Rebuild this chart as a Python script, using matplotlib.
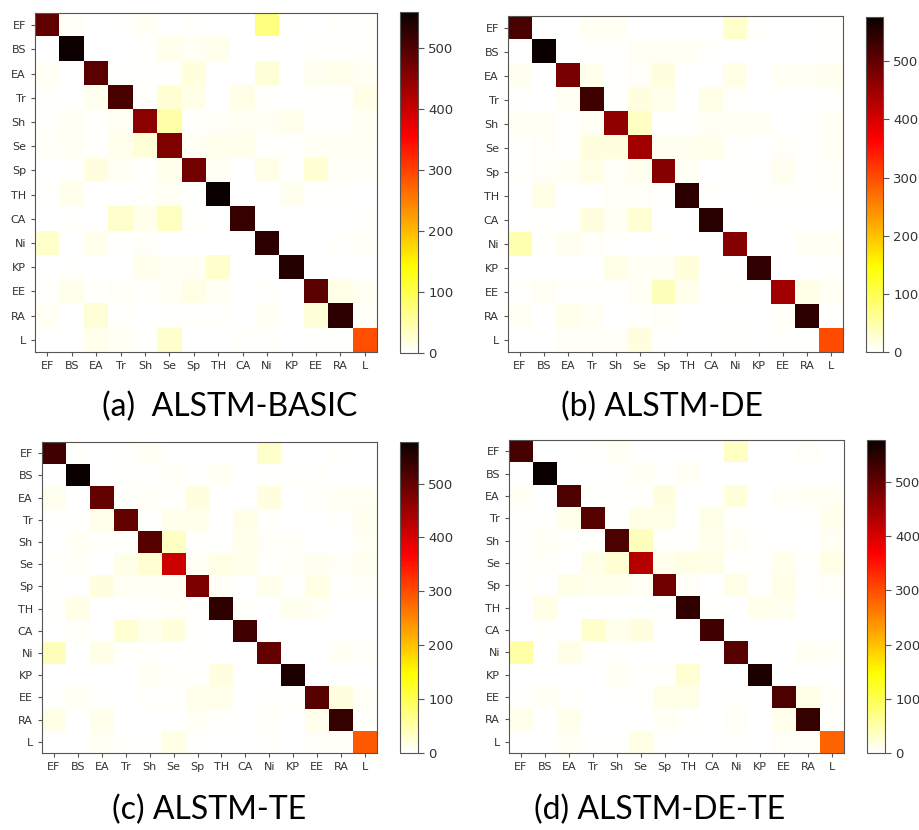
import matplotlib.pyplot as plt
import numpy as np

# class labels
labels = ['EF', 'BS', 'EA', 'Tr', 'Sh', 'Se', 'Sp', 'TH', 'CA', 'Ni', 'KP', 'EE', 'RA', 'L']

# confusion matrices (rows = true, cols = predicted)
cm_basic = np.array([
    [485, 5, 0, 3, 8, 0, 3, 0, 0, 70, 3, 0, 3, 3],
    [0, 555, 0, 0, 3, 12, 8, 12, 0, 0, 0, 3, 3, 3],
    [8, 0, 490, 3, 3, 3, 20, 0, 0, 22, 0, 10, 12, 8],
    [3, 0, 10, 505, 3, 25, 15, 0, 15, 3, 0, 3, 3, 15],
    [3, 8, 3, 8, 450, 50, 3, 5, 8, 8, 12, 3, 3, 8],
    [5, 8, 3, 12, 22, 460, 8, 12, 12, 3, 3, 8, 8, 8],
    [0, 3, 18, 8, 3, 12, 470, 8, 0, 15, 3, 25, 5, 5],
    [3, 12, 0, 0, 3, 8, 3, 559, 0, 0, 10, 3, 3, 0],
    [0, 3, 0, 30, 12, 35, 3, 0, 520, 0, 0, 0, 0, 3],
    [30, 0, 12, 3, 5, 0, 0, 0, 0, 530, 0, 0, 3, 5],
    [0, 3, 0, 0, 12, 8, 8, 30, 0, 0, 535, 0, 0, 0],
    [3, 12, 3, 5, 3, 8, 15, 8, 0, 3, 0, 490, 15, 8],
    [8, 0, 22, 3, 0, 3, 3, 3, 0, 8, 0, 22, 530, 5],
    [0, 0, 12, 8, 3, 30, 0, 0, 3, 3, 0, 3, 3, 290],
])

cm_de = np.array([
    [520, 0, 0, 8, 8, 0, 0, 0, 0, 30, 3, 0, 0, 3],
    [0, 576, 0, 3, 3, 8, 8, 8, 3, 0, 0, 0, 0, 3],
    [10, 0, 480, 12, 3, 5, 20, 0, 0, 15, 0, 8, 8, 10],
    [3, 0, 8, 530, 3, 20, 12, 0, 15, 3, 0, 0, 0, 3],
    [8, 8, 3, 8, 460, 35, 3, 3, 8, 8, 8, 0, 3, 8],
    [3, 5, 3, 18, 20, 445, 10, 10, 12, 3, 0, 5, 3, 8],
    [3, 5, 8, 15, 5, 10, 470, 8, 0, 3, 3, 10, 3, 5],
    [0, 15, 0, 0, 5, 5, 3, 545, 3, 0, 3, 3, 3, 3],
    [0, 3, 0, 20, 8, 25, 0, 0, 550, 0, 0, 0, 0, 0],
    [45, 3, 10, 5, 3, 0, 3, 0, 0, 470, 0, 0, 8, 8],
    [0, 0, 0, 0, 15, 8, 8, 22, 0, 0, 540, 0, 0, 3],
    [3, 8, 3, 3, 3, 8, 40, 12, 0, 3, 0, 445, 15, 8],
    [8, 0, 12, 8, 0, 3, 5, 0, 0, 0, 0, 5, 545, 3],
    [0, 0, 5, 5, 5, 18, 3, 0, 0, 3, 0, 3, 3, 300],
])

cm_te = np.array([
    [530, 3, 0, 3, 8, 0, 0, 0, 0, 30, 0, 0, 3, 0],
    [0, 577, 0, 3, 3, 5, 3, 8, 0, 3, 3, 3, 0, 0],
    [10, 0, 500, 3, 5, 3, 20, 0, 0, 20, 0, 5, 8, 8],
    [3, 3, 12, 500, 3, 12, 12, 0, 15, 3, 0, 0, 3, 10],
    [0, 8, 3, 3, 510, 35, 3, 3, 12, 5, 5, 0, 0, 8],
    [3, 5, 0, 15, 25, 410, 8, 15, 12, 3, 5, 10, 5, 10],
    [3, 0, 20, 8, 8, 8, 480, 5, 0, 12, 3, 18, 3, 5],
    [3, 15, 0, 0, 3, 5, 3, 545, 3, 0, 10, 8, 0, 0],
    [0, 5, 0, 25, 12, 22, 3, 0, 530, 0, 0, 0, 0, 0],
    [40, 0, 15, 3, 3, 0, 3, 0, 0, 500, 0, 0, 8, 5],
    [0, 0, 0, 0, 8, 3, 3, 20, 0, 0, 560, 0, 0, 0],
    [3, 8, 3, 0, 3, 3, 12, 12, 0, 3, 3, 510, 20, 5],
    [15, 0, 12, 0, 0, 0, 8, 3, 0, 5, 0, 12, 540, 3],
    [0, 0, 8, 3, 3, 18, 3, 0, 0, 3, 0, 5, 5, 290],
])

cm_dete = np.array([
    [525, 0, 0, 3, 8, 0, 0, 0, 0, 35, 0, 0, 5, 0],
    [0, 577, 0, 0, 3, 8, 3, 8, 0, 0, 0, 0, 0, 0],
    [8, 0, 520, 3, 3, 3, 20, 0, 0, 22, 0, 5, 8, 8],
    [3, 3, 12, 510, 3, 15, 15, 0, 15, 3, 0, 0, 3, 12],
    [3, 8, 3, 3, 520, 40, 3, 3, 12, 8, 3, 0, 0, 8],
    [3, 5, 0, 15, 25, 430, 12, 18, 15, 3, 3, 12, 3, 15],
    [3, 0, 15, 12, 12, 8, 490, 5, 0, 15, 3, 15, 3, 5],
    [0, 15, 0, 0, 0, 3, 3, 545, 3, 0, 12, 10, 0, 0],
    [0, 3, 0, 30, 12, 20, 0, 0, 530, 0, 0, 0, 0, 0],
    [50, 0, 15, 3, 3, 0, 0, 0, 0, 510, 0, 0, 8, 5],
    [0, 0, 0, 0, 8, 3, 3, 25, 0, 0, 560, 0, 0, 0],
    [3, 8, 3, 0, 3, 3, 15, 15, 0, 3, 0, 520, 15, 5],
    [12, 0, 12, 0, 0, 0, 8, 3, 0, 5, 0, 12, 540, 3],
    [0, 0, 8, 3, 3, 18, 3, 0, 0, 3, 0, 5, 5, 280],
])

titles = ['(a)  ALSTM-BASIC', '(b) ALSTM-DE', '(c) ALSTM-TE', '(d) ALSTM-DE-TE']
matrices = [cm_basic, cm_de, cm_te, cm_dete]

W, H = 919., 830.

# pixel boxes (left, top, right, bottom) for heatmap, colorbar, caption centre
ax_px = [(35, 13, 377, 352), (508, 16, 843, 352), (42, 442, 377, 753), (509, 440, 844, 753)]
cb_px = [(400, 12, 418, 353), (866, 17, 883, 352), (400, 442, 418, 753), (867, 440, 885, 753)]
cap_px = [(230, 407), (662, 407), (209, 810), (660, 810)]


def frac(box):
    l, t, r, b = box
    return [l / W, 1 - b / H, (r - l) / W, (b - t) / H]


fig = plt.figure(figsize=(9.19, 8.30), dpi=100)

for cm, title, ab, cb, cp in zip(matrices, titles, ax_px, cb_px, cap_px):
    ax = fig.add_axes(frac(ab))
    im = ax.imshow(cm, cmap='hot_r', interpolation='nearest', aspect='auto', vmin=0)
    ax.set_xticks(np.arange(len(labels)))
    ax.set_yticks(np.arange(len(labels)))
    ax.set_xticklabels(labels, fontsize=8, color='#333333')
    ax.set_yticklabels(labels, fontsize=8, color='#333333')
    ax.tick_params(length=3, color='#555555')
    for s in ax.spines.values():
        s.set_color('#555555')

    cax = fig.add_axes(frac(cb))
    cbar = fig.colorbar(im, cax=cax, ticks=[0, 100, 200, 300, 400, 500])
    cbar.ax.tick_params(labelsize=9.5, labelcolor='#333333', color='#555555', length=4)
    cbar.outline.set_edgecolor('#555555')

    fig.text(cp[0] / W, 1 - cp[1] / H, title, ha='center', va='center',
             fontsize=23, family=['Lato', 'DejaVu Sans'])

fig.savefig('out.png', dpi=100)
